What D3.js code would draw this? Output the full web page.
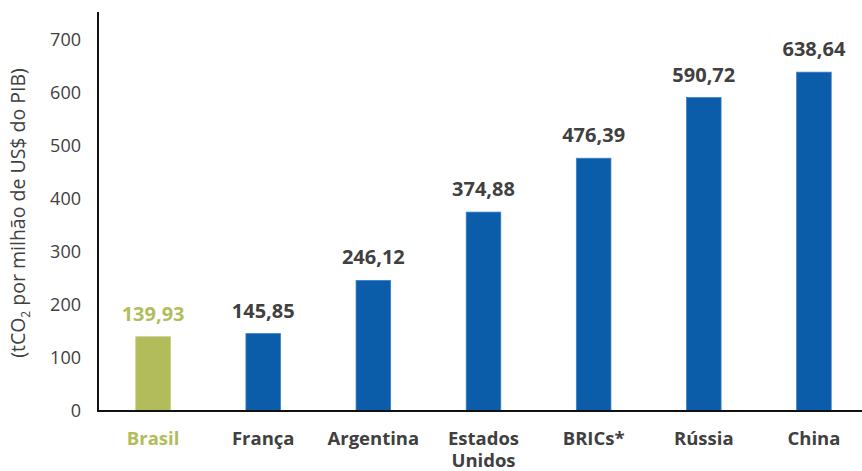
<!DOCTYPE html>
<html>
<head>
<meta charset="utf-8">
<script src="https://cdn.jsdelivr.net/npm/d3@7"></script>
<style>
  body { margin: 0; background: #fff; }
  text { font-family: "Open Sans", "Noto Sans", sans-serif; fill: #404040; }
</style>
</head>
<body>
<div id="maincontent"></div>
<script>
var width = 862, height = 471;

// data
var categories = ["Brasil", "França", "Argentina", "Estados Unidos", "BRICs*", "Rússia", "China"];
var values = [139.93, 145.85, 246.12, 374.88, 476.39, 590.72, 638.64];
var valueLabels = ["139,93", "145,85", "246,12", "374,88", "476,39", "590,72", "638,64"];
var yTicks = [0, 100, 200, 300, 400, 500, 600, 700];

var green = "#b3bc5b", blue = "#0b5ca9", grey = "#404040";

var svg = d3.select("#maincontent").append("svg")
    .attr("width", width)
    .attr("height", height);

var x = d3.scaleBand()
    .domain(categories)
    .range([98, 869])
    .paddingInner(0.686)
    .paddingOuter(0.343);

var y = d3.scaleLinear()
    .domain([0, 752])
    .range([411, 12]);

// bars
svg.selectAll(".bar")
    .data(categories)
    .enter().append("rect")
    .attr("class", "bar")
    .attr("x", function (d) { return x(d); })
    .attr("y", function (d, i) { return y(values[i]); })
    .attr("width", x.bandwidth())
    .attr("height", function (d, i) { return y(0) - y(values[i]); })
    .attr("fill", function (d, i) { return i == 0 ? green : blue; })
    .attr("stroke", function (d, i) { return i == 0 ? "#c3ca7a" : "#3a80c8"; })
    .attr("stroke-width", 0.8);

// value labels
svg.selectAll(".val")
    .data(categories)
    .enter().append("text")
    .attr("class", "val")
    .attr("x", function (d) { return x(d) + x.bandwidth() / 2; })
    .attr("y", function (d, i) { return y(values[i]) - 16; })
    .attr("text-anchor", "middle")
    .style("font-size", "20px")
    .style("font-weight", "bold")
    .style("fill", function (d, i) { return i == 0 ? green : grey; })
    .text(function (d, i) { return valueLabels[i]; });

// y axis (no tick marks, just labels)
var yAxis = svg.append("g")
    .attr("transform", "translate(98,0)")
    .call(d3.axisLeft(y).tickValues(yTicks).tickSize(0).tickPadding(17));
yAxis.select(".domain").remove();
yAxis.selectAll("text")
    .style("font-size", "18px")
    .style("font-family", "'Open Sans', 'Noto Sans', sans-serif")
    .style("fill", grey);

svg.append("line")
    .attr("x1", 98).attr("x2", 98)
    .attr("y1", y(752)).attr("y2", y(0) + 1)
    .attr("stroke", "#111").attr("stroke-width", 2);

svg.append("line")
    .attr("x1", 97).attr("x2", 862)
    .attr("y1", y(0)).attr("y2", y(0))
    .attr("stroke", "#111").attr("stroke-width", 2);

// category labels (Estados Unidos wraps)
var cats = svg.selectAll(".cat")
    .data(categories)
    .enter().append("text")
    .attr("class", "cat")
    .attr("text-anchor", "middle")
    .style("font-size", "18.5px")
    .style("font-weight", "bold")
    .style("fill", function (d, i) { return i == 0 ? green : grey; });

cats.each(function (d) {
    var words = d == "Estados Unidos" ? ["Estados", "Unidos"] : [d];
    var t = d3.select(this);
    words.forEach(function (w, k) {
        t.append("tspan")
            .attr("x", x(d) + x.bandwidth() / 2)
            .attr("y", 445 + k * 22)
            .text(w);
    });
});

// y title
var title = svg.append("text")
    .attr("transform", "translate(25,213)rotate(-90)")
    .attr("text-anchor", "middle")
    .style("font-size", "19.5px");
title.append("tspan").text("(tCO");
title.append("tspan").attr("dy", 5).style("font-size", "12px").text("2");
title.append("tspan").attr("dy", -5).text(" por milhão de US$ do PIB)");
</script>
</body>
</html>
